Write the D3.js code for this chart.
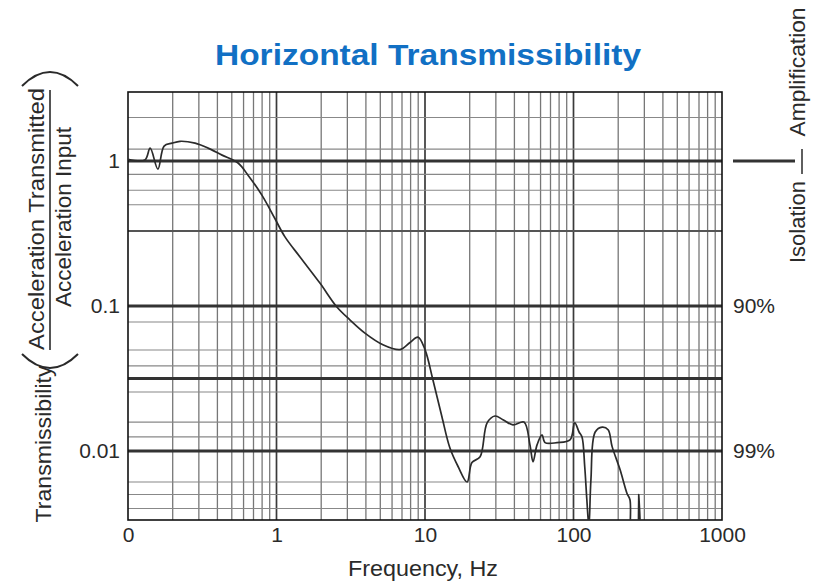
<!DOCTYPE html>
<html>
<head>
<meta charset="utf-8">
<script src="https://cdn.jsdelivr.net/npm/d3@7/dist/d3.min.js"></script>
<style>
  html, body { margin: 0; padding: 0; background: #fff; }
  svg { display: block; font-family: "Liberation Sans", Arial, Helvetica, sans-serif; }
</style>
</head>
<body>
<svg id="chart" width="813" height="582"></svg>
<script>
// Measured transmissibility (output / input acceleration) vs frequency
const freq = [0.1, 0.13, 0.141, 0.159, 0.175, 0.198, 0.224, 0.283, 0.346, 0.43, 0.551, 0.643, 0.799, 0.977,
  1.14, 1.44, 1.96, 2.56, 3.13, 3.94, 5.21, 6.79, 7.93, 8.97, 10.0, 11.3, 13.0, 14.7, 16.7, 19.2, 20.7, 23.5,
  26.2, 29.6, 33.5, 39.1, 46.4, 50.9, 53.4, 56.8, 61.4, 64.3, 77.4, 94.7, 102, 109, 114, 119, 123, 127, 131,
  140, 156, 171, 182, 206, 229, 240, 248, 272, 275, 276.5, 278];
const trans = [1.03, 1.02, 1.23, 0.88, 1.27, 1.33, 1.37, 1.33, 1.23, 1.10, 0.97, 0.80, 0.58, 0.40,
  0.30, 0.218, 0.144, 0.098, 0.080, 0.065, 0.054, 0.050, 0.056, 0.061, 0.050, 0.031, 0.0172, 0.0105, 0.0078, 0.0061, 0.0083, 0.0091,
  0.0156, 0.0174, 0.0164, 0.0151, 0.0158, 0.011, 0.0084, 0.011, 0.0129, 0.0114, 0.0114, 0.0119, 0.0156, 0.0135, 0.0125, 0.0078, 0.0046, 0.003, 0.0063,
  0.0135, 0.0146, 0.014, 0.0107, 0.0074, 0.0051, 0.0046, 0.002, 0.002, 0.0050, 0.002, 0.002];

// Axis ticks and labels
const xTickValues = [0.1, 1, 10, 100, 1000];
const xTickLabels = ["0", "1", "10", "100", "1000"];
const yTickValues = [1, 0.1, 0.01];
const yTickLabels = ["1", "0.1", "0.01"];
const isolationValues = [0.1, 0.01];
const isolationLabels = ["90%", "99%"];

// Graph-paper rulings
const heavyRules = [1, 0.1, 0.0316, 0.01];
const mediumRules = [0.33];
const lightRules = [2.0, 1.21, 0.81, 0.63, 0.5, 0.0776, 0.0497, 0.0386, 0.0255, 0.0158, 0.0125, 0.0061, 0.005, 0.004];

const svg = d3.select("#chart");
const x = d3.scaleLog().domain([0.1, 1000]).range([128, 722]);
const y = d3.scaleLog().domain([1 / 300, 3]).range([520, 92]);

const textCol = "#2a2a2a";

// Title
svg.append("text")
  .attr("x", 428).attr("y", 65)
  .attr("text-anchor", "middle")
  .attr("font-size", 29).attr("font-weight", "bold")
  .attr("fill", "#1170c4")
  .attr("textLength", 426).attr("lengthAdjust", "spacingAndGlyphs")
  .text("Horizontal Transmissibility");

svg.append("defs").append("clipPath").attr("id", "plotClip")
  .append("rect").attr("x", 128).attr("y", 92).attr("width", 594).attr("height", 428);

const grid = svg.append("g");

// Vertical rulings: 2..9 within each decade, decades heavier
const vMinor = [];
for (let d = -1; d < 3; d++) for (let k = 2; k <= 9; k++) vMinor.push(k * Math.pow(10, d));
grid.selectAll("line.vminor").data(vMinor).join("line")
  .attr("x1", d => x(d)).attr("x2", d => x(d))
  .attr("y1", 92).attr("y2", 520)
  .attr("stroke", "#777").attr("stroke-width", 1.3);
grid.selectAll("line.vmajor").data([1, 10, 100]).join("line")
  .attr("x1", d => x(d)).attr("x2", d => x(d))
  .attr("y1", 92).attr("y2", 520)
  .attr("stroke", "#3a3a3a").attr("stroke-width", 1.7);

grid.selectAll("line.hlight").data(lightRules).join("line")
  .attr("x1", 128).attr("x2", 722)
  .attr("y1", d => y(d)).attr("y2", d => y(d))
  .attr("stroke", "#888").attr("stroke-width", 1.1);
grid.selectAll("line.hmed").data(mediumRules).join("line")
  .attr("x1", 128).attr("x2", 722)
  .attr("y1", d => y(d)).attr("y2", d => y(d))
  .attr("stroke", "#555").attr("stroke-width", 2);
grid.selectAll("line.hheavy").data(heavyRules).join("line")
  .attr("x1", 128).attr("x2", 722)
  .attr("y1", d => y(d)).attr("y2", d => y(d))
  .attr("stroke", "#333").attr("stroke-width", 3);

// Frame
svg.append("rect").attr("x", 128).attr("y", 92).attr("width", 594).attr("height", 428)
  .attr("fill", "none").attr("stroke", "#111").attr("stroke-width", 1.6);

// Curve
const line = d3.line().x(d => x(d[0])).y(d => y(d[1])).curve(d3.curveCatmullRom.alpha(0.5));
svg.append("path")
  .datum(freq.map((f, i) => [f, trans[i]]))
  .attr("clip-path", "url(#plotClip)")
  .attr("d", line)
  .attr("fill", "none").attr("stroke", "#2b2b2b").attr("stroke-width", 1.7)
  .attr("stroke-linejoin", "round");

// X axis labels
const xAxis = d3.axisBottom(x).tickValues(xTickValues)
  .tickFormat((d, i) => xTickLabels[i]).tickSize(0).tickPadding(0);
const gx = svg.append("g").attr("transform", "translate(0,527)").call(xAxis);
gx.select(".domain").remove();
gx.selectAll("text").attr("font-size", 21).attr("fill", textCol)
  .attr("font-family", "'Liberation Sans', Arial, sans-serif");

// Y axis labels
const yAxis = d3.axisLeft(y).tickValues(yTickValues)
  .tickFormat((d, i) => yTickLabels[i]).tickSize(0).tickPadding(8);
const gy = svg.append("g").attr("transform", "translate(128,0)").call(yAxis);
gy.select(".domain").remove();
gy.selectAll("text").attr("font-size", 21).attr("fill", textCol)
  .attr("font-family", "'Liberation Sans', Arial, sans-serif");

// Isolation percentages on the right
svg.selectAll("text.iso").data(isolationValues).join("text")
  .attr("x", 733).attr("y", d => y(d)).attr("dy", "0.35em")
  .attr("font-size", 21).attr("fill", textCol)
  .text((d, i) => isolationLabels[i]);

// X axis title
svg.append("text").attr("x", 423).attr("y", 576)
  .attr("text-anchor", "middle").attr("font-size", 22).attr("fill", textCol)
  .attr("textLength", 150).attr("lengthAdjust", "spacingAndGlyphs")
  .text("Frequency, Hz");

// Y axis title: Transmissibility (Acceleration Transmitted / Acceleration Input)
function vtext(cx, cy, size, len, str) {
  svg.append("text")
    .attr("transform", `translate(${cx},${cy}) rotate(-90)`)
    .attr("text-anchor", "middle").attr("font-size", size).attr("fill", textCol)
    .attr("textLength", len).attr("lengthAdjust", "spacingAndGlyphs")
    .text(str);
}
vtext(51, 444, 22, 157, "Transmissibility");
vtext(44, 219, 22, 262, "Acceleration Transmitted");
vtext(71, 217, 22, 180, "Acceleration Input");
svg.append("line").attr("x1", 50).attr("x2", 50).attr("y1", 90).attr("y2", 350)
  .attr("stroke", textCol).attr("stroke-width", 1.6);
svg.append("path").attr("d", "M22,354 Q50,382 78,354")
  .attr("fill", "none").attr("stroke", textCol).attr("stroke-width", 2);
svg.append("path").attr("d", "M22,86 Q50,58 78,86")
  .attr("fill", "none").attr("stroke", textCol).attr("stroke-width", 2);

// Amplification / Isolation divider on the right
vtext(805, 72, 22, 129, "Amplification");
vtext(805, 222, 22, 82, "Isolation");
svg.append("line").attr("x1", 733).attr("x2", 795).attr("y1", y(1)).attr("y2", y(1))
  .attr("stroke", "#333").attr("stroke-width", 3);
svg.append("line").attr("x1", 802).attr("x2", 802).attr("y1", 149).attr("y2", 174)
  .attr("stroke", textCol).attr("stroke-width", 1.5);
</script>
</body>
</html>
